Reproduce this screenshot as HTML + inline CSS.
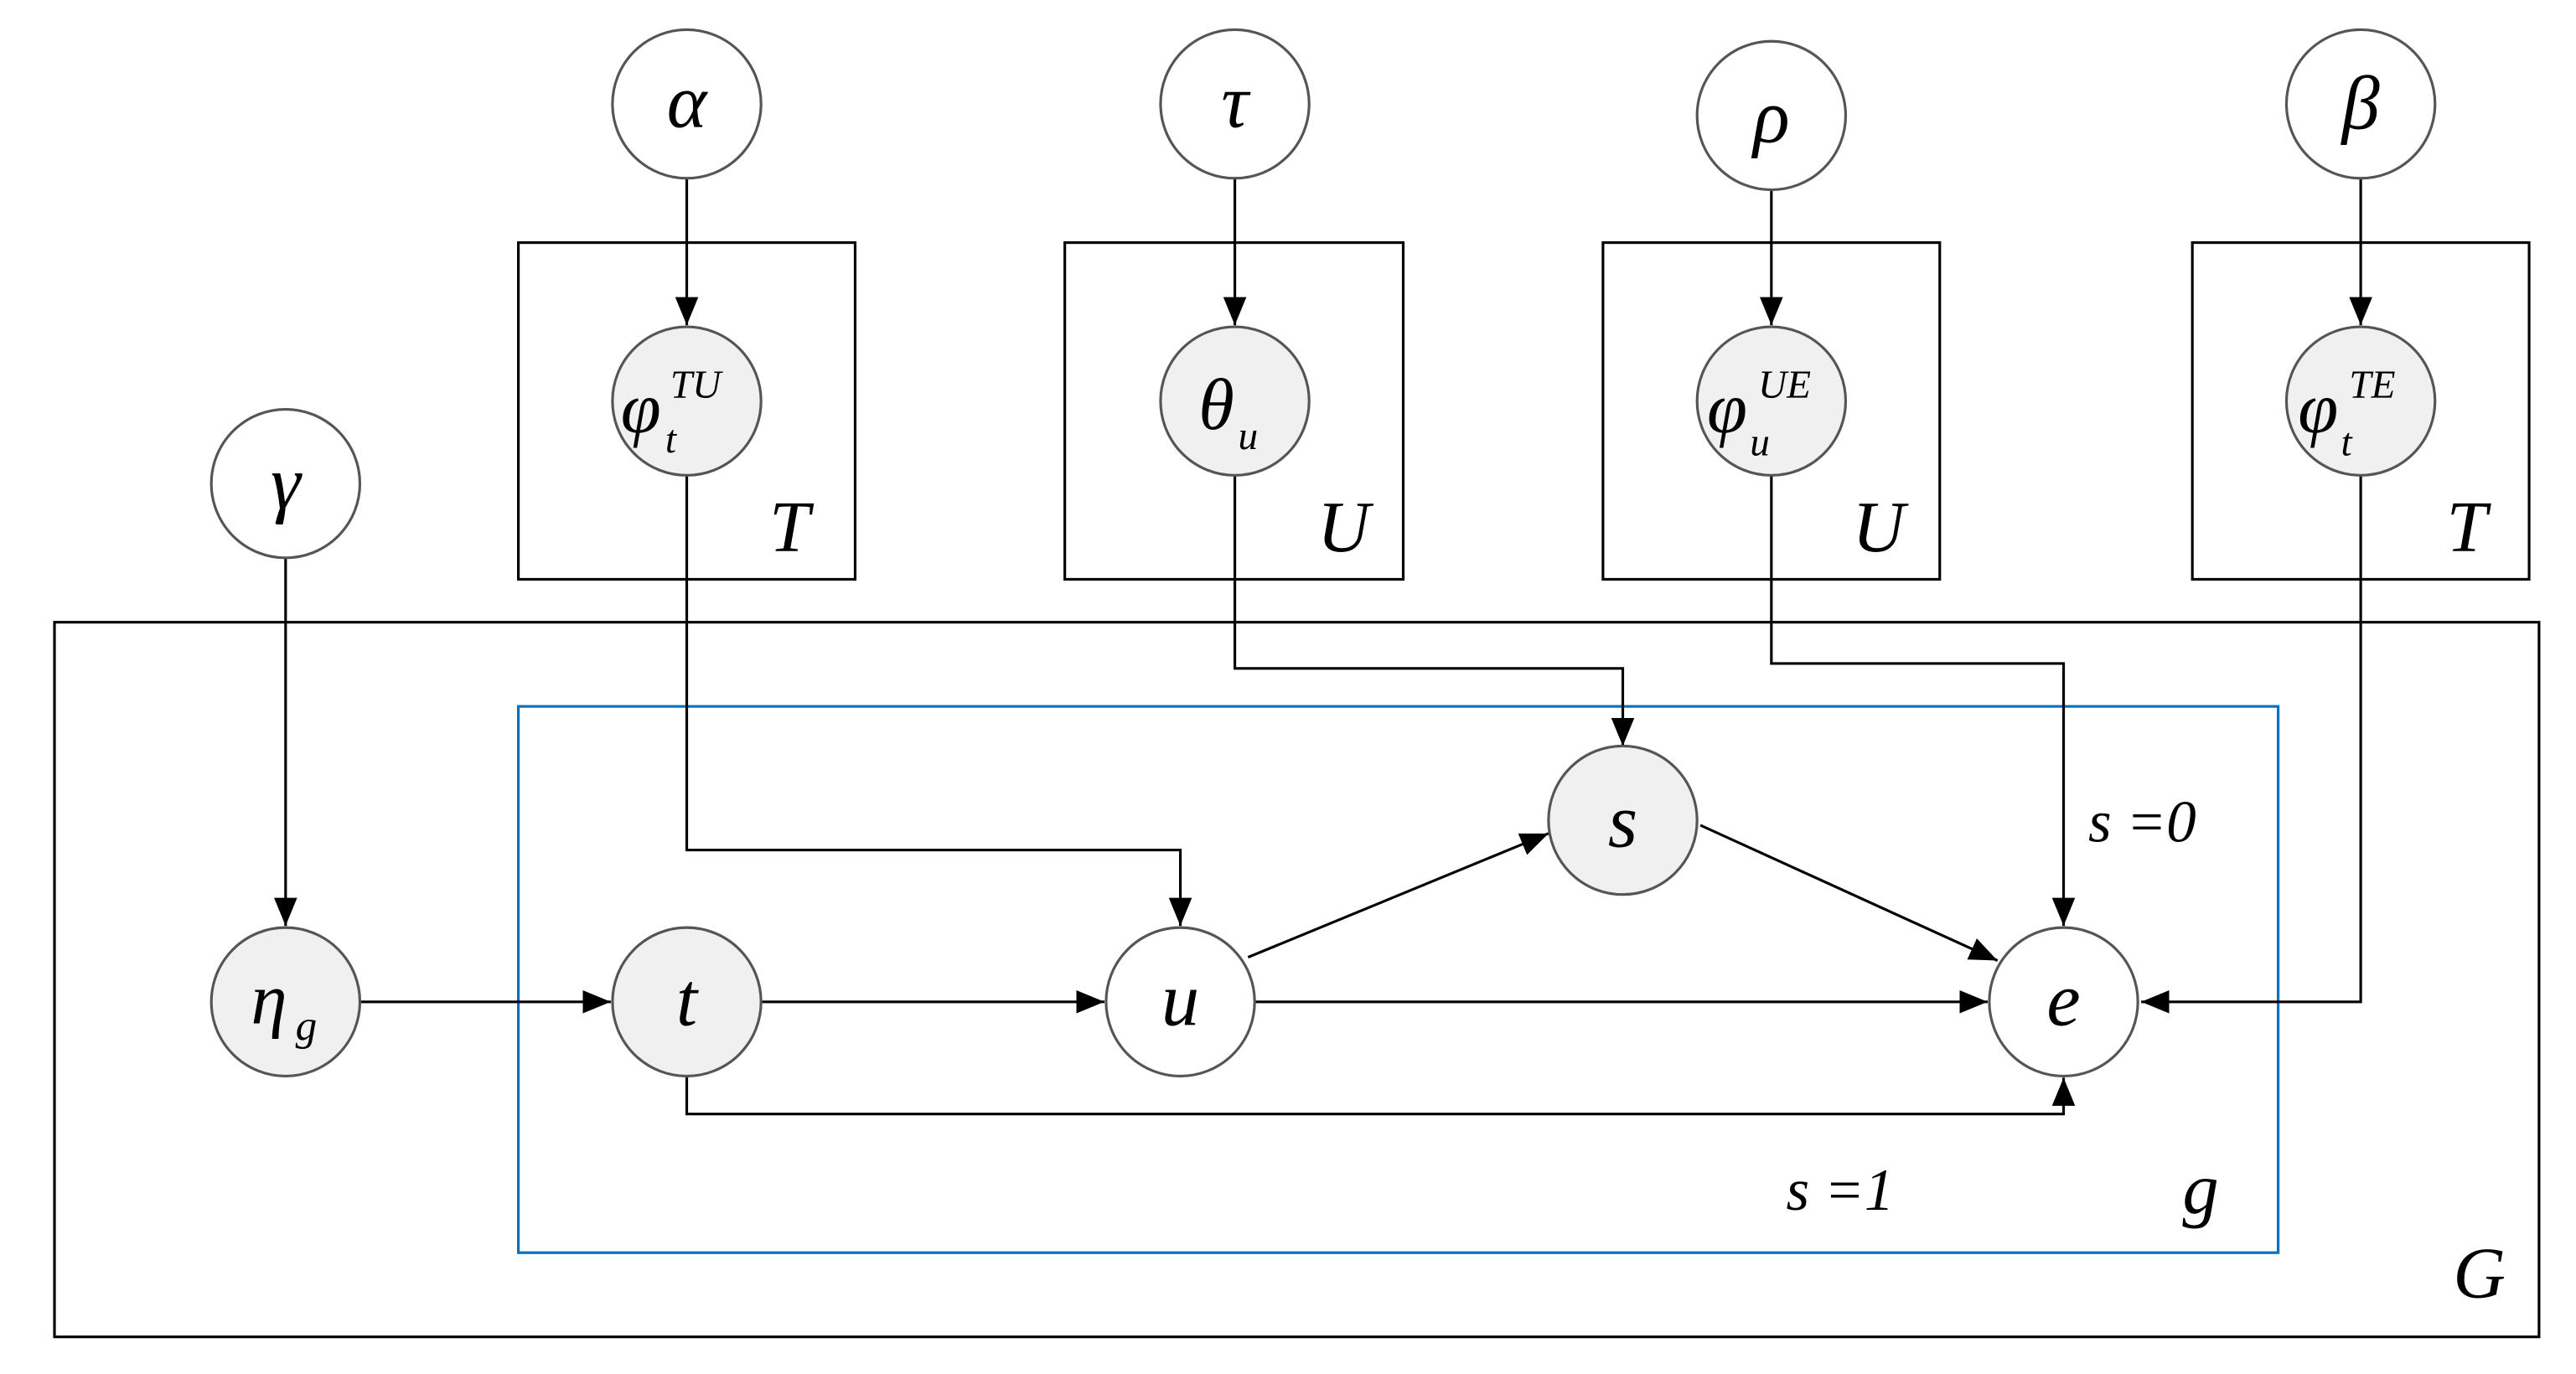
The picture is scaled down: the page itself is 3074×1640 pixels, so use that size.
<!DOCTYPE html>
<html><head><meta charset="utf-8"><style>
html,body{margin:0;padding:0;background:#fff;}
svg{display:block;}
text{font-family:"Liberation Serif",serif;font-style:italic;fill:#000;}
</style></head><body>
<svg width="3074" height="1640" viewBox="0 0 1560.4 832.5" preserveAspectRatio="none" xmlns="http://www.w3.org/2000/svg">
<defs>
<marker id="a" markerUnits="userSpaceOnUse" markerWidth="18" markerHeight="14" refX="17" refY="7" orient="auto">
<path d="M0,0 L17,7 L0,14 Z" fill="#000"/></marker>
</defs>
<g fill="none" stroke="#000" stroke-width="1.6">
<rect x="314" y="147" width="204" height="204"/>
<rect x="645" y="147" width="205" height="204"/>
<rect x="971" y="147" width="204" height="204"/>
<rect x="1328" y="147" width="204" height="204"/>
<rect x="33" y="377" width="1505" height="433"/>
<rect x="314" y="428" width="1066" height="331" stroke="#0070c0"/>
<line x1="416" y1="108" x2="416" y2="197" marker-end="url(#a)"/>
<line x1="748" y1="108" x2="748" y2="197" marker-end="url(#a)"/>
<line x1="1073" y1="115" x2="1073" y2="197" marker-end="url(#a)"/>
<line x1="1430" y1="108" x2="1430" y2="197" marker-end="url(#a)"/>
<line x1="173" y1="338" x2="173" y2="561" marker-end="url(#a)"/>
<polyline points="748,288 748,405 983,405 983,452" marker-end="url(#a)"/>
<polyline points="1073,288 1073,402 1250,402 1250,561" marker-end="url(#a)"/>
<polyline points="416,288 416,515 715,515 715,561" marker-end="url(#a)"/>
<polyline points="1430,288 1430,607 1297,607" marker-end="url(#a)"/>
<polyline points="416,652 416,675 1250,675 1250,653" marker-end="url(#a)"/>
<line x1="218" y1="607" x2="370" y2="607" marker-end="url(#a)"/>
<line x1="461" y1="607" x2="669" y2="607" marker-end="url(#a)"/>
<line x1="760" y1="607" x2="1204" y2="607" marker-end="url(#a)"/>
<line x1="756" y1="580" x2="938" y2="505" marker-end="url(#a)"/>
<line x1="1030" y1="500" x2="1210" y2="582" marker-end="url(#a)"/>
</g>
<g stroke="#555" stroke-width="1.6">
<circle cx="416" cy="63" r="45" fill="#fff"/>
<circle cx="748" cy="63" r="45" fill="#fff"/>
<circle cx="1073" cy="70" r="45" fill="#fff"/>
<circle cx="1430" cy="63" r="45" fill="#fff"/>
<circle cx="173" cy="293" r="45" fill="#fff"/>
<circle cx="416" cy="243" r="45" fill="#f0f0f0"/>
<circle cx="748" cy="243" r="45" fill="#f0f0f0"/>
<circle cx="1073" cy="243" r="45" fill="#f0f0f0"/>
<circle cx="1430" cy="243" r="45" fill="#f0f0f0"/>
<circle cx="173" cy="607" r="45" fill="#f0f0f0"/>
<circle cx="416" cy="607" r="45" fill="#f0f0f0"/>
<circle cx="715" cy="607" r="45" fill="#fff"/>
<circle cx="983" cy="497" r="45" fill="#f0f0f0"/>
<circle cx="1250" cy="607" r="45" fill="#fff"/>
</g>
<g font-size="46" text-anchor="middle">
<text x="416" y="77">α</text>
<text x="748" y="77">τ</text>
<text x="1073" y="86">ρ</text>
<text x="1430" y="78">β</text>
<text x="173" y="308">γ</text>
<text x="983" y="513">s</text>
<text x="1250" y="621">e</text>
<text x="715" y="621">u</text>
<text x="416" y="621">t</text>
</g>
<g font-size="44">
<text x="376" y="262">φ</text><text x="403" y="274" font-size="24">t</text><text x="406" y="241" font-size="24">TU</text>
<text x="726" y="260">θ</text><text x="750" y="272" font-size="24">u</text>
<text x="1034" y="262">φ</text><text x="1060" y="276" font-size="24">u</text><text x="1065" y="241" font-size="24">UE</text>
<text x="1392" y="262">φ</text><text x="1418" y="276" font-size="24">t</text><text x="1423" y="241" font-size="24">TE</text>
<text x="152" y="620">η</text><text x="179" y="630" font-size="26">g</text>
<text x="466" y="334" font-size="44">T</text>
<text x="798" y="334" font-size="44">U</text>
<text x="1122" y="334" font-size="44">U</text>
<text x="1482" y="334" font-size="44">T</text>
<text x="1322" y="735" font-size="44">g</text>
<text x="1486" y="786" font-size="44">G</text>
<text x="1265" y="510" font-size="36">s =0</text>
<text x="1082" y="733" font-size="36">s =1</text>
</g>
</svg>
</body></html>
